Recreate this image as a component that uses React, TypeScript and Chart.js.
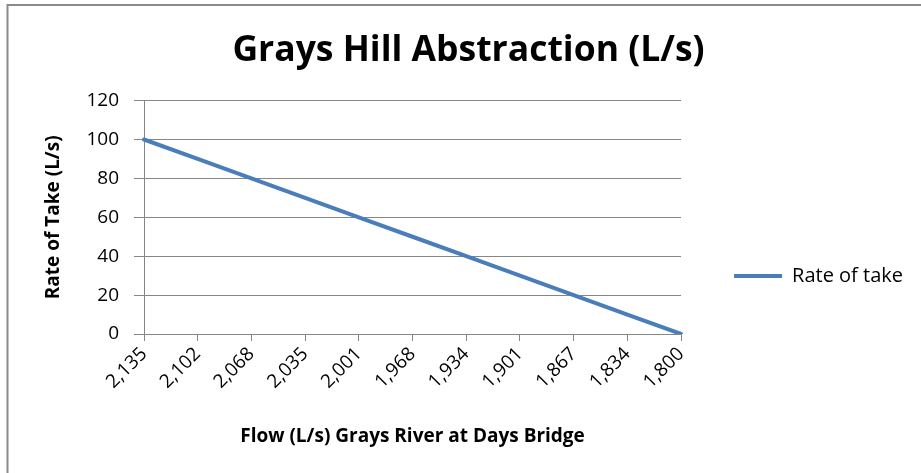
import React, { useEffect, useRef } from "react";
import { Chart, registerables } from "chart.js";

Chart.register(...registerables);

const titleText = "Grays Hill Abstraction (L/s)";
const xAxisTitle = "Flow (L/s) Grays River at Days Bridge";
const yAxisTitle = "Rate of Take (L/s)";
const seriesName = "Rate of take";
const flowCategories = ["2,135", "2,102", "2,068", "2,035", "2,001", "1,968", "1,934", "1,901", "1,867", "1,834", "1,800"];
const rateOfTake = [100, 90, 80, 70, 60, 50, 40, 30, 20, 10, 0];
const yMin = 0;
const yMax = 120;
const yStep = 20;

const FONT = "'Open Sans', sans-serif";
const GRID = "#868686";
const LINE = "#4a7ebb";

const framePlugin = {
  id: "frame",
  afterDraw(chart: any) {
    const ctx = chart.ctx;
    ctx.save();
    ctx.strokeStyle = "#8a8a8a";
    ctx.lineWidth = 2;
    ctx.beginPath();
    ctx.moveTo(7.5, 473);
    ctx.lineTo(7.5, 5);
    ctx.lineTo(921, 5);
    ctx.stroke();
    ctx.restore();
  },
};

export default function App() {
  const ref = useRef<HTMLCanvasElement | null>(null);
  useEffect(() => {
    document.body.style.margin = "0";
    const chart = new Chart(ref.current as HTMLCanvasElement, {
      type: "line",
      data: {
        labels: flowCategories,
        datasets: [
          {
            label: seriesName,
            data: rateOfTake,
            borderColor: LINE,
            backgroundColor: LINE,
            borderWidth: 4,
            pointRadius: 0,
            borderCapStyle: "round",
            tension: 0,
            yAxisID: "y",
          },
        ],
      },
      options: {
        animation: false,
        responsive: true,
        maintainAspectRatio: false,
        layout: { padding: { left: 24, right: 8, top: 0, bottom: 0 } },
        plugins: {
          tooltip: { enabled: false },
          title: {
            display: true,
            text: titleText,
            color: "#000",
            font: { family: FONT, size: 35.5, weight: "bold" },
            padding: { top: 30, bottom: 28 },
          },
          legend: {
            position: "right",
            title: { display: true, text: " ", font: { family: FONT, size: 20 }, padding: { top: 0, bottom: 55 } },
            labels: {
              usePointStyle: true,
              pointStyle: "line",
              pointStyleWidth: 48,
              color: "#000",
              font: { family: FONT, size: 20 },
              padding: 10,
            },
          },
        },
        scales: {
          x: {
            grid: { display: true, drawOnChartArea: false, drawTicks: true, tickLength: 7, color: GRID },
            border: { display: true, color: GRID },
            ticks: { color: "#000", font: { family: FONT, size: 19 }, minRotation: 45, maxRotation: 45, padding: 2, autoSkip: false },
            title: { display: true, text: xAxisTitle, color: "#000", font: { family: FONT, size: 19, weight: "bold" }, padding: { top: 0, bottom: 25 } },
            afterFit: (s: any) => { s.height = 139; },
          },
          y: {
            position: "left",
            min: yMin,
            max: yMax,
            grid: { color: GRID, tickLength: 10 },
            border: { display: true, color: GRID },
            ticks: { stepSize: yStep, color: "#000", font: { family: FONT, size: 19 }, padding: 15 },
            title: { display: true, text: yAxisTitle, color: "#000", font: { family: FONT, size: 19, weight: "bold" }, padding: { top: 18.6, bottom: 0 } },
            afterFit: (s: any) => { s.width = 120; },
          },
          yR: {
            type: "linear",
            position: "right",
            display: false,
            afterFit: (s: any) => { s.width = 43; },
          },
        },
      },
      plugins: [framePlugin],
    } as any);
    return () => chart.destroy();
  }, []);
  return (
    <div style={{ position: "relative", width: 921, height: 473, background: "#fff" }}>
      <canvas ref={ref} />
    </div>
  );
}
